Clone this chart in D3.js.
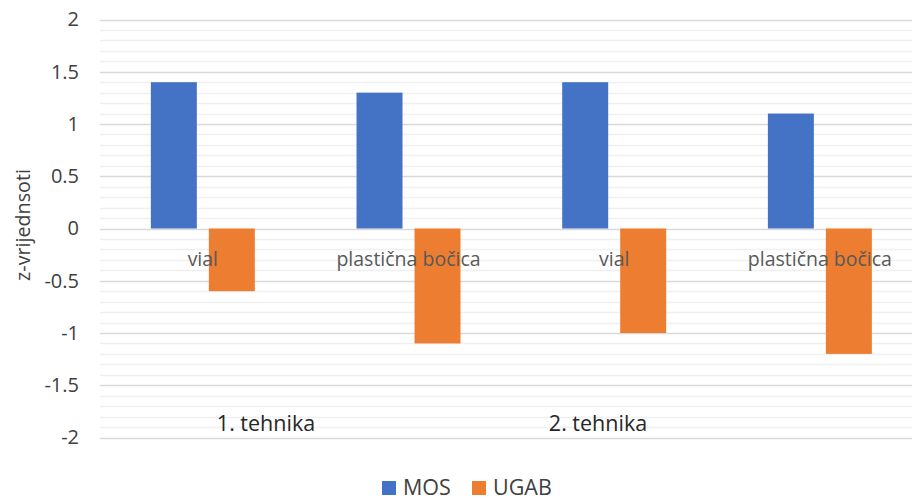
<!DOCTYPE html>
<html><head><meta charset="utf-8">
<script src="https://cdn.jsdelivr.net/npm/d3@7"></script>
<style>html,body{margin:0;padding:0;background:#fff;}svg{display:block;font-family:"Open Sans","Noto Sans",sans-serif;}</style>
</head><body>
<svg id="c" width="912" height="501"></svg>
<script>
const categories = ["vial", "plastična bočica", "vial", "plastična bočica"];
const groups = ["1. tehnika", "2. tehnika"];
const seriesNames = ["MOS", "UGAB"];
const seriesColors = ["#4472C4", "#ED7D31"];
const mos = [1.4, 1.3, 1.4, 1.1];
const ugab = [-0.6, -1.1, -1.0, -1.2];
const yTicks = [-2, -1.5, -1, -0.5, 0, 0.5, 1, 1.5, 2];
const yTitle = "z-vrijednsoti";

(function () {
const svg = d3.select("#c");
const pLeft = 100, pRight = 922.7, pTop = 19.5, pBottom = 437.5;
const y = d3.scaleLinear().domain([-2, 2]).range([pBottom, pTop]);
const x = d3.scaleBand().domain(d3.range(categories.length)).range([pLeft, pRight]).paddingInner(0).paddingOuter(0);
const xs = d3.scaleBand().domain([0, 1]).range([0, x.bandwidth()]).paddingInner(0.207).paddingOuter(0.877);

// minor gridlines
const minor = d3.range(-20, 21).map(d => d / 10).filter(v => Math.abs(Math.round(v * 2) - v * 2) > 1e-6);
svg.append("g").selectAll("line").data(minor).join("line")
  .attr("x1", pLeft).attr("x2", 912)
  .attr("y1", d => Math.round(y(d)) + 0.5).attr("y2", d => Math.round(y(d)) + 0.5)
  .attr("stroke", "#f0f0f0").attr("stroke-width", 1.3);
// major gridlines
svg.append("g").selectAll("line").data(yTicks).join("line")
  .attr("x1", pLeft).attr("x2", 912)
  .attr("y1", d => Math.round(y(d)) + 0.5).attr("y2", d => Math.round(y(d)) + 0.5)
  .attr("stroke", "#d9d9d9").attr("stroke-width", 1.3);

// y tick labels
const yAxis = d3.axisLeft(y).tickValues(yTicks).tickSize(0).tickPadding(0).tickFormat(d => String(d));
const ya = svg.append("g").attr("transform", `translate(79,0)`).call(yAxis);
ya.select(".domain").remove();
ya.selectAll("text").attr("font-size", 20).attr("fill", "#404040").attr("font-family", "'Open Sans',sans-serif");

// y title
svg.append("text").attr("transform", "translate(30,225) rotate(-90)")
  .attr("text-anchor", "middle").attr("font-size", 19.7).attr("fill", "#404040").text(yTitle);

// bars
const data = [mos, ugab];
data.forEach((vals, s) => {
  svg.append("g").selectAll("rect").data(vals).join("rect")
    .attr("x", (d, i) => x(i) + xs(s))
    .attr("width", xs.bandwidth())
    .attr("y", d => y(Math.max(0, d)))
    .attr("height", d => Math.abs(y(d) - y(0)))
    .attr("fill", seriesColors[s]);
});

// category labels
svg.append("g").selectAll("text").data(categories).join("text")
  .attr("x", (d, i) => x(i) + x.bandwidth() / 2)
  .attr("y", 266)
  .attr("text-anchor", "middle").attr("font-size", 19.5).attr("fill", "#595959")
  .text(d => d);

// group labels
const groupX = [266, 598];
svg.append("g").selectAll("text").data(groups).join("text")
  .attr("x", (d, i) => groupX[i]).attr("y", 431)
  .attr("text-anchor", "middle").attr("font-size", 21.5).attr("fill", "#262626")
  .text(d => d);

// legend
const legX = [382, 472];
const lg = svg.append("g");
seriesNames.forEach((n, i) => {
  lg.append("rect").attr("x", legX[i]).attr("y", 481).attr("width", 14).attr("height", 14).attr("fill", seriesColors[i]);
  lg.append("text").attr("x", legX[i] + 21).attr("y", 495).attr("font-size", 21.5).attr("fill", "#404040").text(n);
});
})();
</script>
</body></html>
